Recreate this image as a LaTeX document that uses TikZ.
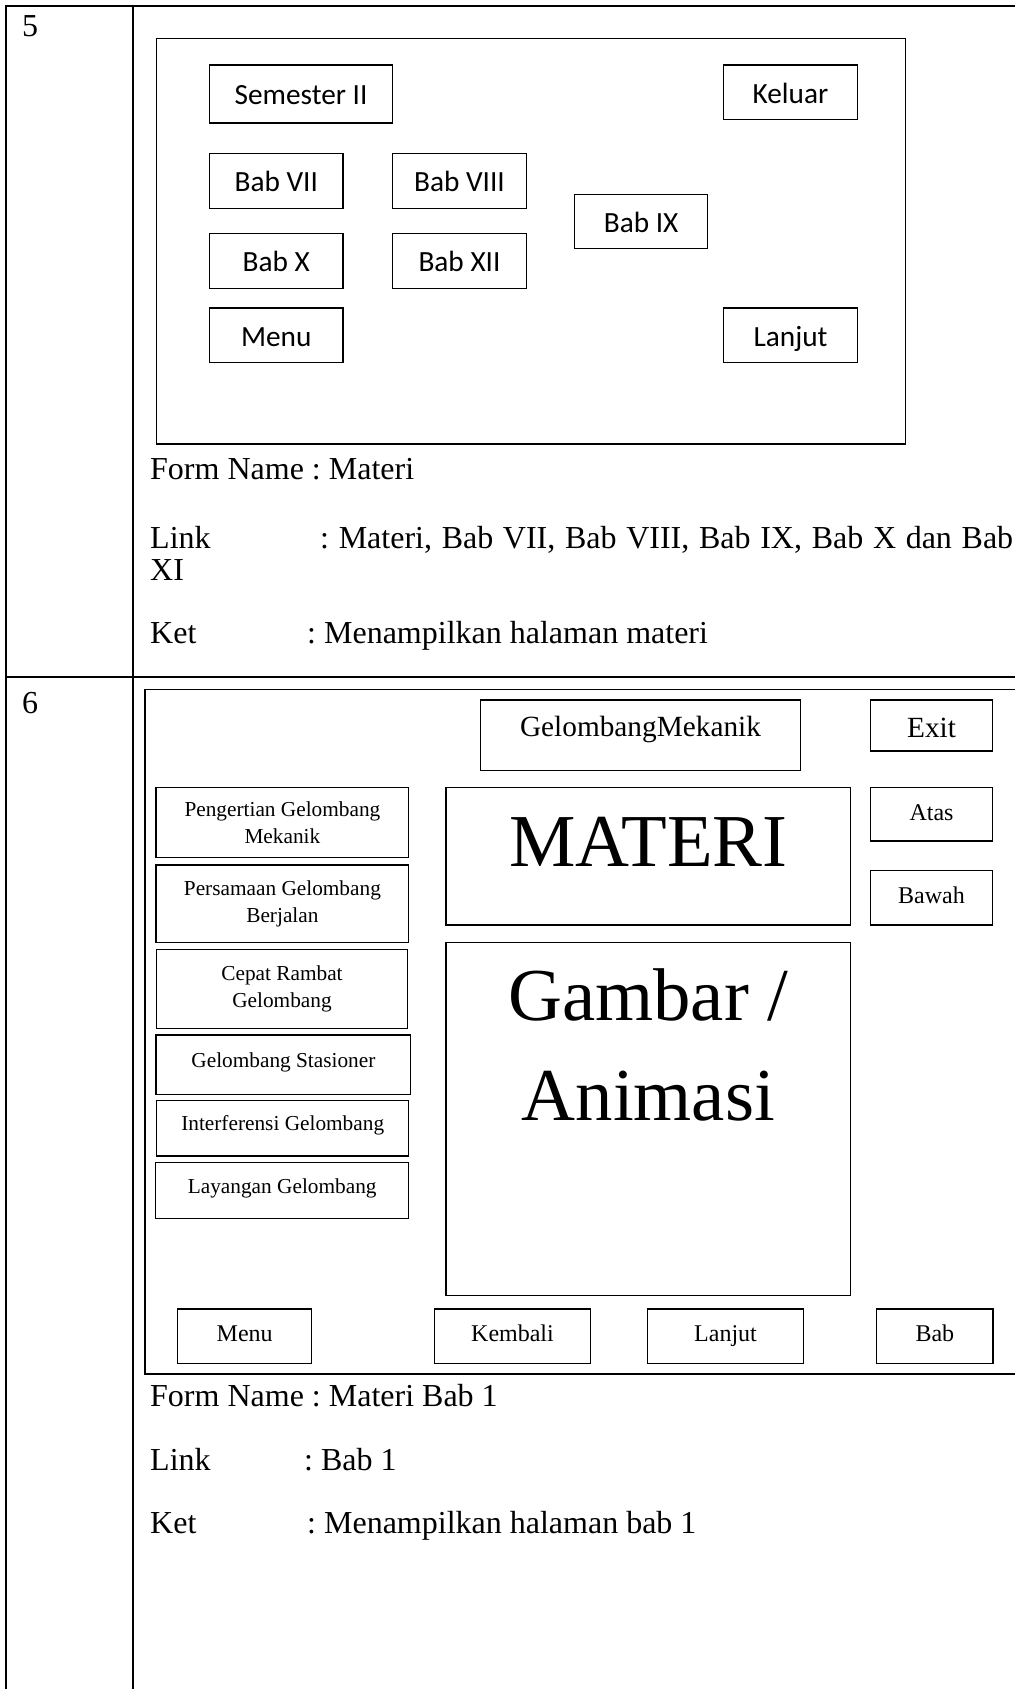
\documentclass[tikz,border=0pt]{standalone}
\usepackage{fontspec}
\setmainfont{Liberation Serif}
\newfontfamily\btnsans{Carlito}
\usepackage{tikz}
\usetikzlibrary{positioning}
\tikzset{my_table/.style={line width=2pt}}
\tikzset{my_frame/.style={draw, line width=1.3pt, inner sep=0pt}}
\tikzset{my_button/.style={draw, line width=1.3pt, inner sep=0pt, align=center, text height=16.8pt, text depth=5.3pt, font=\fontsize{24}{28}\selectfont}}
\tikzset{my_sans_button/.style={my_button, text height=22pt, text depth=0.6pt, font=\btnsans\fontsize{29.3}{35}\selectfont}}
\tikzset{my_list_button/.style={draw, line width=1.3pt, inner sep=0pt, align=center, font=\fontsize{21.3}{26.4}\selectfont}}
\tikzset{my_list_single/.style={my_list_button, text height=14.5pt, text depth=9.5pt}}
\tikzset{my_text/.style={anchor=base west, inner sep=0pt, font=\fontsize{32}{36}\selectfont}}
\frenchspacing

\begin{document}
\begin{tikzpicture}[x=1pt, y=-1pt]
    \useasboundingbox (0,0) rectangle (1015,1689);
    % table lines
    \draw[my_table] (6,1689) -- (6,6) -- (1015,6);
    \draw[my_table] (133,6) -- (133,1689);
    \draw[my_table] (6,677) -- (1015,677);
    \node[my_text] (no5) at (22,36) {5};
    \node[my_text] (no6) at (22,713) {6};

    % form 5: materi
    \node[my_frame, minimum width=749, minimum height=405.7] (form5) at (531.2,241.2) {};
    \node[my_sans_button, minimum width=183, minimum height=58] (semester) at (301,94) {Semester II};
    \node[my_sans_button, minimum width=134, minimum height=54.5] (keluar) at (790.5,92.3) {Keluar};
    \node[my_sans_button, minimum width=133.5, minimum height=54.7] (bab7) at (276.3,180.9) {Bab VII};
    \node[my_sans_button, minimum width=133.5, minimum height=54.7] (bab8) at (459.5,180.9) {Bab VIII};
    \node[my_sans_button, minimum width=132.6, minimum height=54.4] (bab9) at (641.1,221.5) {Bab IX};
    \node[my_sans_button, minimum width=133.5, minimum height=54.7] (bab10) at (276.3,261) {Bab X};
    \node[my_sans_button, minimum width=133.5, minimum height=54.7] (bab12) at (459.5,261) {Bab XII};
    \node[my_sans_button, minimum width=133.5, minimum height=54.7] (menu5) at (276.3,335.3) {Menu};
    \node[my_sans_button, minimum width=134, minimum height=54.7] (lanjut5) at (790.5,335.3) {Lanjut};

    \node[my_text] (form5_name) at (150,479) {Form Name : Materi};
    \node[my_text] (link5) at (150,548) {Link};
    \node[my_text] (link5_val) at (320,548) {\makebox[693pt][s]{: Materi, Bab VII, Bab VIII, Bab IX, Bab X dan Bab}};
    \node[my_text] (link5_cont) at (150,580) {XI};
    \node[my_text] (ket5) at (150,643) {Ket};
    \node[my_text] (ket5_val) at (307,643) {: Menampilkan halaman materi};

    % form 6: materi bab 1
    \draw[line width=1.3pt] (1015,689.5) -- (145,689.5) -- (145,1374) -- (1015,1374);
    \node[my_frame, minimum width=320, minimum height=70.7] (judul) at (640.5,735.4) {};
    \node[anchor=base, inner sep=0pt, font=\fontsize{29.3}{34}\selectfont] (judul_text) at ([yshift=-36.7pt]judul.north) {GelombangMekanik};
    \node[my_button, text height=23pt, text depth=0pt, font=\fontsize{29.3}{34}\selectfont, minimum width=122.4, minimum height=51] (exit) at (931.5,725.5) {Exit};
    \node[my_frame, minimum width=404.5, minimum height=137.5] (materi) at (648.3,856.3) {};
    \node[anchor=base, inner sep=0pt, font=\fontsize{74.7}{100}\selectfont] (materi_text) at ([yshift=-79.2pt]materi.north) {MATERI};
    \node[my_button, minimum width=122.4, minimum height=53.5] (atas) at (931.5,814.3) {Atas};
    \node[my_button, minimum width=122.4, minimum height=54.3] (bawah) at (931.5,897.9) {Bawah};
    \node[my_frame, minimum width=404.5, minimum height=353] (gambar) at (648.3,1118.8) {};
    \node[align=center, inner sep=0pt, font=\fontsize{74.7}{100}\selectfont] (gambar_text) at ([yshift=-103.2pt]gambar.north) {Gambar /\\Animasi};

    \node[my_list_button, minimum width=252.7, minimum height=70] (pengertian) at (282.4,822.7) {Pengertian Gelombang\\Mekanik};
    \node[my_list_button, minimum width=252.7, minimum height=77.3] (persamaan) at (282.4,903.7) {Persamaan Gelombang\\Berjalan};
    \node[my_list_button, minimum width=250.6, minimum height=79] (cepat) at (282,988.8) {Cepat Rambat\\Gelombang};
    \node[my_list_single, minimum width=254.7, minimum height=59.3] (stasioner) at (283.4,1064.7) {Gelombang Stasioner};
    \node[my_list_single, minimum width=252, minimum height=55.3] (interferensi) at (282.7,1128.4) {Interferensi Gelombang};
    \node[my_list_single, minimum width=253, minimum height=55.6] (layangan) at (282.2,1190.5) {Layangan Gelombang};

    \node[my_button, minimum width=134, minimum height=54.3] (menu6) at (244.7,1336.2) {Menu};
    \node[my_button, minimum width=156.4, minimum height=54.3] (kembali) at (512.5,1336.2) {Kembali};
    \node[my_button, minimum width=156.4, minimum height=54.3] (lanjut6) at (725.5,1336.2) {Lanjut};
    \node[my_button, minimum width=116.3, minimum height=54.3] (bab) at (934.9,1336.2) {Bab};

    \node[my_text] (form6_name) at (150,1406.7) {Form Name : Materi Bab 1};
    \node[my_text] (link6) at (150,1470) {Link};
    \node[my_text] (link6_val) at (304,1470) {: Bab 1};
    \node[my_text] (ket6) at (150,1533.3) {Ket};
    \node[my_text] (ket6_val) at (307,1533.3) {: Menampilkan halaman bab 1};
\end{tikzpicture}
\end{document}
